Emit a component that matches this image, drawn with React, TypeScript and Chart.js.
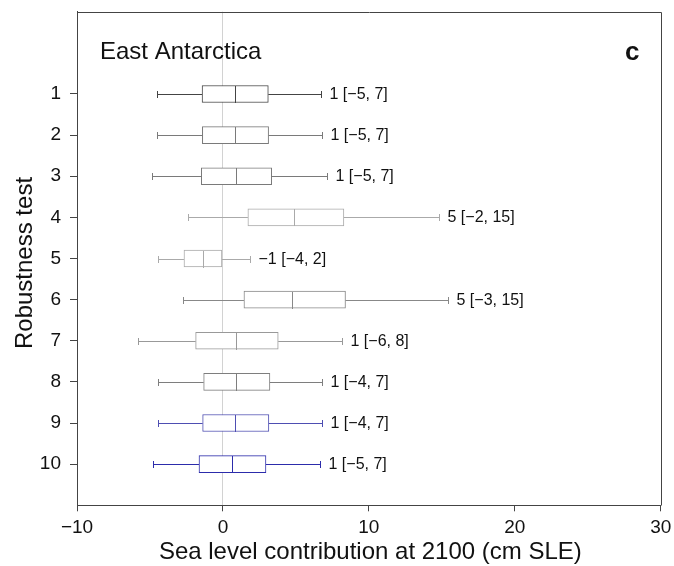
import React, { useEffect, useRef } from "react";
import { Chart, registerables } from "chart.js";

Chart.register(...registerables);

// Robustness tests (rows, top to bottom)
const tests = [1, 2, 3, 4, 5, 6, 7, 8, 9, 10];

// Box-and-whisker statistics per test (cm SLE)
const whiskerLow = [-4.54, -4.54, -4.86, -2.39, -4.48, -2.74, -5.82, -4.47, -4.47, -4.79];
const quartile1 = [-1.43, -1.41, -1.48, 1.71, -2.67, 1.44, -1.87, -1.32, -1.39, -1.64];
const medians = [0.8, 0.82, 0.89, 4.86, -1.37, 4.73, 0.92, 0.92, 0.82, 0.62];
const quartile3 = [3.11, 3.13, 3.34, 8.29, -0.07, 8.4, 3.79, 3.22, 3.15, 2.95];
const whiskerHigh = [6.74, 6.81, 7.12, 14.84, 1.83, 15.43, 8.18, 6.79, 6.79, 6.62];

const rowColors = [
  "#444444",
  "#7a7a7a",
  "#7a7a7a",
  "#aaaaaa",
  "#aaaaaa",
  "#888888",
  "#999999",
  "#7e7e7e",
  "#4e4eb2",
  "#2c2cab",
];

const xTicks = [-10, 0, 10, 20, 30];

const FONT = "'Liberation Sans', Arial, Helvetica, sans-serif";
const TEXT = "#111111";
const AXIS = "#444444";

function fmt(v: number): string {
  const r = Math.round(v);
  return r < 0 ? "\u2212" + Math.abs(r) : String(r);
}

const boxPlugin = {
  id: "boxWhiskers",
  afterDatasetsDraw(chart: any) {
    const { ctx, scales } = chart;
    const x = scales.x;
    const y = scales.y;
    ctx.save();
    ctx.lineWidth = 1;
    tests.forEach((t, i) => {
      const yc = Math.round(y.getPixelForValue(t)) + 0.5;
      const lo = Math.round(x.getPixelForValue(whiskerLow[i])) + 0.5;
      const hi = Math.round(x.getPixelForValue(whiskerHigh[i])) + 0.5;
      const q1 = x.getPixelForValue(quartile1[i]);
      const q3 = x.getPixelForValue(quartile3[i]);
      const med = Math.round(x.getPixelForValue(medians[i])) + 0.5;
      ctx.strokeStyle = rowColors[i];
      ctx.beginPath();
      ctx.moveTo(lo, yc);
      ctx.lineTo(q1, yc);
      ctx.moveTo(q3, yc);
      ctx.lineTo(hi, yc);
      ctx.moveTo(lo, yc - 3.5);
      ctx.lineTo(lo, yc + 3.5);
      ctx.moveTo(hi, yc - 3.5);
      ctx.lineTo(hi, yc + 3.5);
      ctx.moveTo(med, yc - 8.5);
      ctx.lineTo(med, yc + 8.5);
      ctx.stroke();

      ctx.fillStyle = TEXT;
      ctx.font = `16px ${FONT}`;
      ctx.textAlign = "left";
      ctx.textBaseline = "middle";
      ctx.fillText(
        `${fmt(medians[i])} [${fmt(whiskerLow[i])}, ${fmt(whiskerHigh[i])}]`,
        hi + 8,
        yc
      );
    });
    ctx.restore();
  },
  afterDraw(chart: any) {
    const { ctx, chartArea } = chart;
    ctx.save();
    ctx.strokeStyle = AXIS;
    ctx.lineWidth = 1;
    const l = Math.round(chartArea.left) + 0.5;
    const r = Math.round(chartArea.right) + 0.5;
    const t = Math.round(chartArea.top) + 0.5;
    const b = Math.round(chartArea.bottom) + 0.5;
    ctx.beginPath();
    ctx.moveTo(l, t);
    ctx.lineTo(r, t);
    ctx.lineTo(r, b);
    ctx.stroke();

    ctx.fillStyle = TEXT;
    ctx.textBaseline = "alphabetic";
    ctx.textAlign = "left";
    ctx.font = `24px ${FONT}`;
    ctx.fillText("East Antarctica", chartArea.left + 23, chartArea.top + 47.5);
    ctx.textAlign = "center";
    ctx.font = `bold 26px ${FONT}`;
    ctx.fillText("c", chartArea.right - 28.5, chartArea.top + 48.5);

    // axis titles
    ctx.font = `24px ${FONT}`;
    ctx.textAlign = "center";
    ctx.textBaseline = "alphabetic";
    ctx.fillText(
      "Sea level contribution at 2100 (cm SLE)",
      (chartArea.left + chartArea.right) / 2 + 1.5,
      chartArea.bottom + 54
    );
    ctx.translate(31.5, 263);
    ctx.rotate(-Math.PI / 2);
    ctx.fillText("Robustness test", 0, 0);
    ctx.restore();
  },
};

export default function App() {
  const canvasRef = useRef<HTMLCanvasElement | null>(null);

  useEffect(() => {
    const canvas = canvasRef.current;
    if (!canvas) return;
    const chart = new Chart(canvas, {
      type: "bar",
      data: {
        datasets: [
          {
            data: tests.map((t, i) => ({ y: t, x: [quartile1[i], quartile3[i]] })) as any,
            backgroundColor: "#ffffff",
            borderColor: rowColors,
            borderWidth: 1,
            borderSkipped: false,
            barThickness: 17,
          },
        ],
      },
      options: {
        indexAxis: "y",
        responsive: false,
        animation: false,
        devicePixelRatio: 1,
        layout: { padding: { left: 0, right: 13.3, top: 11.7, bottom: 0 } },
        plugins: {
          legend: { display: false },
          tooltip: { enabled: false },
        },
        scales: {
          x: {
            type: "linear",
            min: -10,
            max: 30,
            afterBuildTicks: (scale: any) => {
              scale.ticks = xTicks.map((v) => ({ value: v }));
            },
            afterFit: (scale: any) => {
              scale.height = 60.7;
              scale.paddingLeft = 0;
              scale.paddingRight = 0;
            },
            grid: {
              drawOnChartArea: true,
              color: (c: any) =>
                c.tick && c.tick.value === 0 ? "#d2d2d2" : "rgba(0,0,0,0)",
              tickColor: AXIS,
              tickLength: 6,
            },
            border: { display: true, color: AXIS, width: 1 },
            ticks: {
              color: TEXT,
              font: { family: FONT, size: 19 },
              padding: 5,
              maxRotation: 0,
              autoSkip: false,
              callback: (v: any) => (Number(v) < 0 ? "\u2212" + Math.abs(Number(v)) : String(v)),
            },
          },
          y: {
            type: "linear",
            min: -1,
            max: 11,
            reverse: true,
            offset: false,
            afterBuildTicks: (scale: any) => {
              scale.ticks = tests.map((v) => ({ value: v }));
            },
            afterFit: (scale: any) => {
              scale.width = 77;
              scale.paddingTop = 0;
              scale.paddingBottom = 0;
            },
            grid: {
              offset: false,
              drawOnChartArea: false,
              tickColor: AXIS,
              tickLength: 7,
            },
            border: { display: true, color: AXIS, width: 1 },
            ticks: {
              color: TEXT,
              font: { family: FONT, size: 19 },
              padding: 9,
              autoSkip: false,
              callback: (v: any) => String(v),
            },
          },
        },
      },
      plugins: [boxPlugin],
    });
    return () => chart.destroy();
  }, []);

  return (
    <div style={{ position: "absolute", left: 0, top: 0, width: 674, height: 566 }}>
      <canvas ref={canvasRef} width={674} height={566} />
    </div>
  );
}
